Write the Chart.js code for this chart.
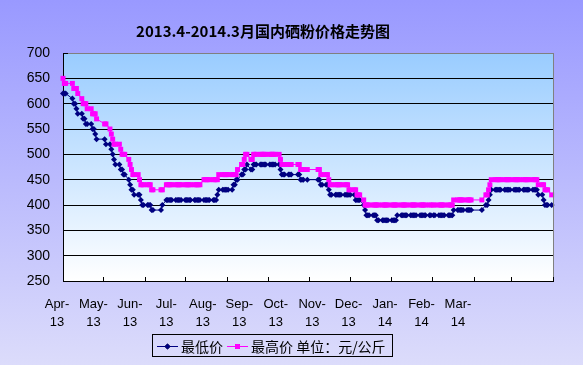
<!DOCTYPE html>
<html>
<head>
<meta charset="utf-8">
<title>硒粉价格走势图</title>
<script src="https://cdn.jsdelivr.net/npm/chart.js@4.4.1/dist/chart.umd.min.js"></script>
<style>
  html, body { margin: 0; padding: 0; background: #fff; }
  #wrap { width: 583px; height: 365px; }
</style>
</head>
<body>
<div id="wrap"><canvas id="pricechart" width="583" height="365"></canvas></div>
<script>
var chartTitle = '2013.4-2014.3月国内硒粉价格走势图';
var monthLabels = [
  ['Apr-', '13'], ['May-', '13'], ['Jun-', '13'], ['Jul-', '13'], ['Aug-', '13'], ['Sep-', '13'],
  ['Oct-', '13'], ['Nov-', '13'], ['Dec-', '13'], ['Jan-', '14'], ['Feb-', '14'], ['Mar-', '14']
];
var yTicks = [250, 300, 350, 400, 450, 500, 550, 600, 650, 700];

// no quotes on these days
var holidays = [
  '2013-04-04', '2013-04-05', '2013-04-29', '2013-04-30', '2013-05-01',
  '2013-06-10', '2013-06-11', '2013-06-12', '2013-09-19', '2013-09-20',
  '2013-10-01', '2013-10-02', '2013-10-03', '2013-10-04', '2013-10-07',
  '2014-01-01', '2014-01-31', '2014-02-03', '2014-02-04', '2014-02-05', '2014-02-06'
];

// 最低价, one value per trading day
var lowPrice = [
  // Apr
  620,620,620,610,600,600,590,580,580,570,570,560,560,560,550,550,540,530,
  // May
  530,520,520,510,500,490,480,480,470,470,460,460,450,440,430,430,420,420,420,410,400,400,
  // Jun
  400,400,400,390,390,390,400,410,410,410,410,410,410,410,410,410,410,
  // Jul
  410,410,410,410,410,410,410,410,410,410,410,410,410,410,410,410,410,410,420,430,430,430,430,
  // Aug
  430,430,430,440,440,450,450,460,460,470,470,480,470,470,480,480,480,480,480,480,480,480,
  // Sep
  480,480,480,480,480,480,470,460,460,460,460,460,460,460,460,450,450,450,450,
  // Oct
  450,450,440,440,440,440,430,420,420,420,420,420,420,420,420,420,420,420,
  // Nov
  420,420,410,410,410,410,400,390,380,380,380,380,380,380,370,370,370,370,370,370,370,
  // Dec
  370,370,370,370,380,380,380,380,380,380,380,380,380,380,380,380,380,380,380,380,380,380,
  // Jan
  380,380,380,380,380,380,380,380,380,380,380,390,390,390,390,390,390,390,390,390,390,
  // Feb
  390,400,400,410,420,430,430,430,430,430,430,430,430,430,430,430,
  // Mar
  430,430,430,430,430,430,430,430,430,430,430,430,430,430,420,420,410,400,400,400,400
];

// 最高价
var highPrice = [
  // Apr
  650,640,640,640,630,630,630,620,610,600,600,600,590,590,580,580,580,570,
  // May
  560,560,550,540,530,520,520,520,510,500,500,500,490,480,470,460,460,460,450,440,440,440,
  // Jun
  440,440,440,430,430,430,430,440,440,440,440,440,440,440,440,440,440,
  // Jul
  440,440,440,440,440,440,440,440,440,440,450,450,450,450,450,450,450,450,450,460,460,460,460,
  // Aug
  460,460,460,460,460,460,470,480,480,490,500,500,490,490,500,500,500,500,500,500,500,500,
  // Sep
  500,500,500,500,500,500,490,480,480,480,480,480,480,480,480,470,470,470,470,
  // Oct
  470,470,460,460,460,460,450,440,440,440,440,440,440,440,440,440,440,430,
  // Nov
  430,430,430,420,420,420,410,400,400,400,400,400,400,400,400,400,400,400,400,400,400,
  // Dec
  400,400,400,400,400,400,400,400,400,400,400,400,400,400,400,400,400,400,400,400,400,400,
  // Jan
  400,400,400,400,400,400,400,400,400,400,400,410,410,410,410,410,410,410,410,410,410,
  // Feb
  410,420,420,430,440,450,450,450,450,450,450,450,450,450,450,450,
  // Mar
  450,450,450,450,450,450,450,450,450,450,450,450,450,450,440,440,440,430,430,430,420
];

// trading days counted from 2013-04-01
var DAY = 86400000;
var startDay = Date.UTC(2013, 3, 1);
var endDay = Date.UTC(2014, 2, 31);
var tradingDays = [];
for (var t = startDay; t <= endDay; t += DAY) {
    var dt = new Date(t);
    var wd = dt.getUTCDay();
    if (wd === 0 || wd === 6) continue;
    if (holidays.indexOf(dt.toISOString().slice(0, 10)) >= 0) continue;
    tradingDays.push((t - startDay) / DAY);
}
var monthStarts = [];
for (var m = 0; m <= 12; m++) {
    monthStarts.push((Date.UTC(2013, 3 + m, 1) - startDay) / DAY);
}
var totalDays = monthStarts[12];

function points(values) {
    return values.map(function(v, i) { return {x: tradingDays[i], y: v}; });
}

var fontCJK = '"Noto Sans CJK SC", "Liberation Sans", sans-serif';

var frame = {
    id: 'frame',
    beforeDraw: function(chart) {
        var ctx = chart.ctx, a = chart.chartArea;
        ctx.save();
        var g = ctx.createLinearGradient(0, 0, 0, chart.height);
        g.addColorStop(0, '#9999ff');
        g.addColorStop(1, '#dcdcfb');
        ctx.fillStyle = g;
        ctx.fillRect(0, 0, chart.width, chart.height);
        var p = ctx.createLinearGradient(0, a.top, 0, a.bottom);
        p.addColorStop(0, '#99ccff');
        p.addColorStop(1, '#ffffff');
        ctx.fillStyle = p;
        ctx.fillRect(a.left, a.top, a.right - a.left, a.bottom - a.top);
        ctx.restore();
    },
    afterDraw: function(chart) {
        var ctx = chart.ctx, a = chart.chartArea;
        var xs = chart.scales.x;
        ctx.save();

        // plot border, right side
        ctx.strokeStyle = '#808080';
        ctx.lineWidth = 1;
        ctx.beginPath();
        ctx.moveTo(Math.round(a.right) + 0.5, a.top);
        ctx.lineTo(Math.round(a.right) + 0.5, a.bottom);
        ctx.stroke();

        // inward tick marks
        ctx.strokeStyle = '#000';
        ctx.beginPath();
        monthStarts.forEach(function(d) {
            var px = Math.round(xs.getPixelForValue(d)) + 0.5;
            ctx.moveTo(px, a.bottom);
            ctx.lineTo(px, a.bottom - 4);
        });
        ctx.moveTo(a.left, Math.round(a.top) + 0.5);
        ctx.lineTo(a.left + 5, Math.round(a.top) + 0.5);
        ctx.stroke();

        // title
        ctx.fillStyle = '#000';
        ctx.font = 'bold 15px ' + fontCJK;
        ctx.textAlign = 'center';
        ctx.textBaseline = 'middle';
        ctx.fillText(chartTitle, 263, 31);

        // legend
        var ds = chart.data.datasets;
        ctx.strokeStyle = '#000';
        ctx.strokeRect(152.5, 334.5, 240, 22);
        ctx.font = '14px ' + fontCJK;
        ctx.textAlign = 'left';
        var ly = 346.5;
        var items = [{x: 157, ds: ds[0]}, {x: 227, ds: ds[1]}];
        items.forEach(function(it) {
            ctx.strokeStyle = it.ds.borderColor;
            ctx.beginPath();
            ctx.moveTo(it.x, ly);
            ctx.lineTo(it.x + 21, ly);
            ctx.stroke();
            Chart.helpers.drawPoint(ctx, {pointStyle: it.ds.pointStyle, radius: it.ds.pointRadius, borderWidth: 0}, it.x + 10.5, ly);
            ctx.fillStyle = it.ds.pointBackgroundColor;
            ctx.fill();
            ctx.fillStyle = '#000';
            ctx.fillText(it.ds.label, it.x + 24, ly + 0.5);
        });
        ctx.restore();
    }
};

var ctx = document.getElementById('pricechart').getContext('2d');
Chart.defaults.font.family = '"Liberation Sans", Arial, sans-serif';
Chart.defaults.color = '#000';

var chart = new Chart(ctx, {
    type: 'line',
    data: {
        datasets: [{
            label: '最低价',
            data: points(lowPrice),
            borderColor: '#000080',
            backgroundColor: '#000080',
            pointBackgroundColor: '#000080',
            borderWidth: 1,
            pointStyle: 'rectRot',
            pointRadius: 3,
            pointBorderWidth: 0,
            tension: 0,
            clip: false,
            order: 1
        }, {
            label: '最高价 单位：元/公斤',
            data: points(highPrice),
            borderColor: '#ff00ff',
            backgroundColor: '#ff00ff',
            pointBackgroundColor: '#ff00ff',
            borderWidth: 1,
            pointStyle: 'rect',
            pointRadius: 3.5,
            pointBorderWidth: 0,
            tension: 0,
            clip: false,
            order: 0
        }]
    },
    options: {
        responsive: false,
        animation: false,
        layout: { padding: { top: 53, left: 23, right: 30, bottom: 34 } },
        plugins: {
            legend: { display: false },
            title: { display: false },
            tooltip: { enabled: false }
        },
        scales: {
            x: {
                type: 'linear',
                min: 0,
                max: totalDays,
                weight: 0,
                grid: { display: false },
                border: { display: true, color: '#000', width: 1 },
                ticks: { display: false },
                afterFit: function(s) { s.height = 0; }
            },
            xl: {
                type: 'linear',
                position: 'bottom',
                weight: 1,
                min: 0.1646,
                max: 13.608,
                grid: { display: false },
                border: { display: false },
                ticks: {
                    autoSkip: false,
                    maxRotation: 0,
                    padding: 7,
                    color: '#000',
                    font: { size: 13, lineHeight: 1.35 },
                    callback: function(v) { return monthLabels[v]; }
                },
                afterBuildTicks: function(s) {
                    s.ticks = monthLabels.map(function(l, i) { return {value: i}; });
                },
                afterFit: function(s) { s.height = 50; }
            },
            y: {
                min: yTicks[0],
                max: yTicks[yTicks.length - 1],
                afterBuildTicks: function(s) {
                    s.ticks = yTicks.map(function(v) { return {value: v}; });
                },
                ticks: { color: '#000', padding: 13, font: { size: 14 } },
                grid: {
                    drawTicks: false,
                    color: function(c) { return c.tick && c.tick.value === 700 ? '#808080' : '#000'; }
                },
                border: { color: '#000' },
                afterFit: function(s) { s.width = 40; }
            }
        }
    },
    plugins: [frame]
});
</script>
</body>
</html>
